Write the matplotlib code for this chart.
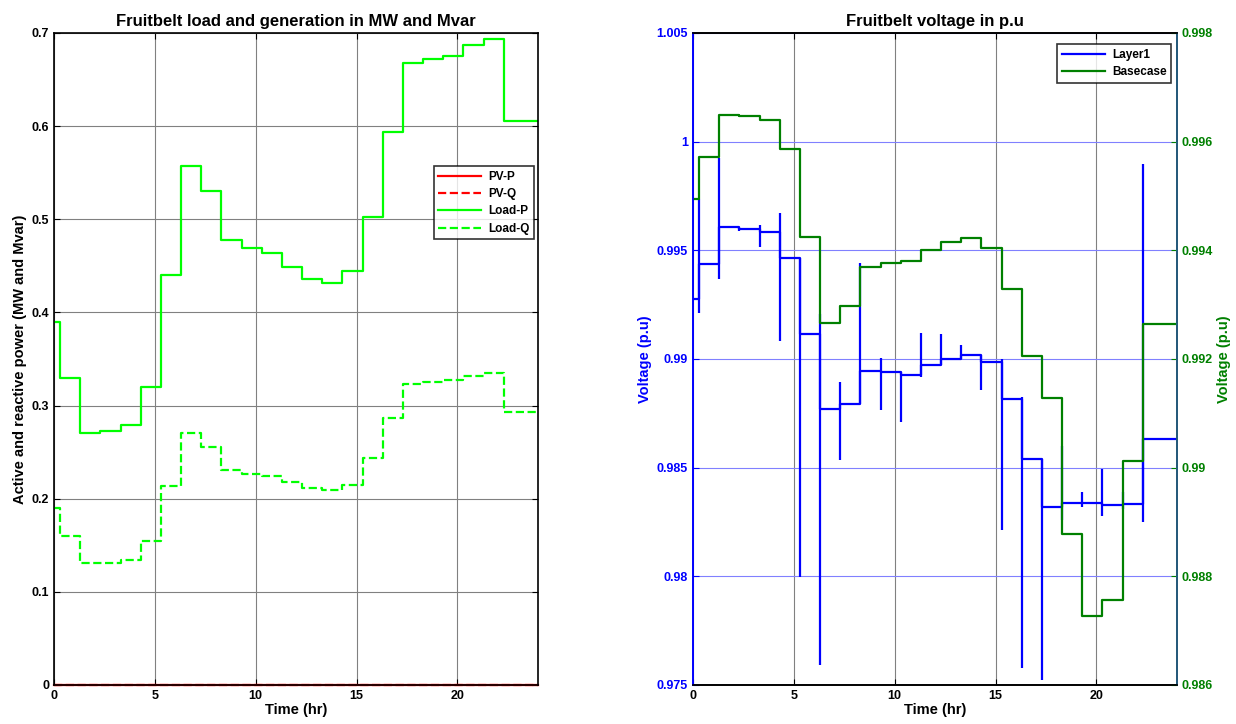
"""Fruitbelt load/generation and voltage profiles, two panels side by side."""

import matplotlib
matplotlib.use("Agg")
import matplotlib.pyplot as plt

plt.rcParams["font.family"] = ["Liberation Sans", "DejaVu Sans"]
plt.rcParams["font.weight"] = "bold"

# step start times (hr); each value holds until the next start, last until 24 h
step_start = [0, 0.3, 1.3, 2.3, 3.3, 4.3, 5.3, 6.3, 7.3, 8.3, 9.3, 10.3,
              11.3, 12.3, 13.3, 14.3, 15.3, 16.3, 17.3, 18.3, 19.3, 20.3,
              21.3, 22.3]
t_end = 24

pv_p = [0.0] * 24
pv_q = [0.0] * 24
load_p = [0.390, 0.330, 0.270, 0.273, 0.279, 0.320, 0.440, 0.557, 0.530,
          0.478, 0.469, 0.464, 0.449, 0.436, 0.432, 0.444, 0.502, 0.594,
          0.668, 0.672, 0.675, 0.687, 0.694, 0.605]
load_q = [0.190, 0.160, 0.131, 0.131, 0.134, 0.155, 0.214, 0.270, 0.256,
          0.231, 0.227, 0.224, 0.218, 0.212, 0.209, 0.215, 0.244, 0.287,
          0.323, 0.325, 0.327, 0.332, 0.335, 0.293]

layer1 = [0.99274, 0.99435, 0.99605, 0.99600, 0.99585, 0.99465, 0.99115,
          0.98769, 0.98792, 0.98945, 0.98940, 0.98926, 0.98971, 0.99000,
          0.99017, 0.98985, 0.98814, 0.98538, 0.98317, 0.98337, 0.98337,
          0.98328, 0.98334, 0.98634]
basecase = [0.99494, 0.99572, 0.99649, 0.99647, 0.99639, 0.99586, 0.99424,
            0.99267, 0.99298, 0.99369, 0.99377, 0.99381, 0.99400, 0.99415,
            0.99422, 0.99404, 0.99329, 0.99205, 0.99129, 0.98878, 0.98727,
            0.98756, 0.99013, 0.99264]

# transient extremes of Layer1 at each switching instant (0.3 .. 22.3)
spike_t = step_start[1:]
spike_lo = [0.99211, 0.99368, 0.99590, 0.99515, 0.99081, 0.97995, 0.97592,
            0.98537, 0.98792, 0.98765, 0.98711, 0.98918, 0.98971, 0.99000,
            0.98857, 0.98215, 0.97577, 0.97523, 0.98260, 0.98320, 0.98277,
            0.98310, 0.98249]
spike_hi = [0.99735, 0.99926, 0.99605, 0.99618, 0.99671, 0.99465, 0.99207,
            0.98892, 0.99440, 0.99005, 0.98940, 0.99120, 0.99114, 0.99063,
            0.99017, 0.99000, 0.98823, 0.98538, 0.98598, 0.98390, 0.98492,
            0.98390, 0.99895]

x_ticks = [0, 5, 10, 15, 20]
p_ticks = [0, 0.1, 0.2, 0.3, 0.4, 0.5, 0.6, 0.7]
p_labels = ["0", "0.1", "0.2", "0.3", "0.4", "0.5", "0.6", "0.7"]
v_ticks = [0.975, 0.98, 0.985, 0.99, 0.995, 1.0, 1.005]
v_labels = ["0.975", "0.98", "0.985", "0.99", "0.995", "1", "1.005"]
vb_ticks = [0.986, 0.988, 0.99, 0.992, 0.994, 0.996, 0.998]
vb_labels = ["0.986", "0.988", "0.99", "0.992", "0.994", "0.996", "0.998"]

BLUE = "#0000ff"
DGREEN = "#008000"
LIME = "#00ff00"
TICK_FS = 9
LABEL_FS = 10.5
TITLE_FS = 12
LEG_FS = 8.5


def stairs(vals):
    return step_start + [t_end], vals + [vals[-1]]


fig = plt.figure(figsize=(12.36, 7.24), dpi=100)

# ---- left panel ----
ax1 = fig.add_axes([0.0437, 0.0539, 0.3916, 0.9006])
for vals, col, ls, lab in [(pv_p, "red", "-", "PV-P"), (pv_q, "red", "--", "PV-Q"),
                           (load_p, LIME, "-", "Load-P"), (load_q, LIME, "--", "Load-Q")]:
    xs, ys = stairs(vals)
    ax1.step(xs, ys, where="post", color=col, ls=ls, lw=1.6, label=lab,
             clip_on=False if col == "red" else True)
ax1.set_xlim(0, 24)
ax1.set_ylim(0, 0.7)
ax1.set_xticks(x_ticks)
ax1.set_yticks(p_ticks)
ax1.set_yticklabels(p_labels)
ax1.grid(True, color="#808080", lw=0.8)
ax1.tick_params(direction="in", top=True, right=True, labelsize=TICK_FS, length=4)
ax1.set_title("Fruitbelt load and generation in MW and Mvar", fontsize=TITLE_FS,
              fontweight="bold", pad=5)
ax1.set_xlabel("Time (hr)", fontsize=LABEL_FS, fontweight="bold", labelpad=1)
ax1.set_ylabel("Active and reactive power (MW and Mvar)", fontsize=LABEL_FS,
               fontweight="bold", labelpad=3)
leg1 = ax1.legend(loc="upper left", bbox_to_anchor=(0.772, 0.805), fontsize=LEG_FS,
                  handlelength=3.6, frameon=True, fancybox=False,
                  borderpad=0.4, labelspacing=0.45, handletextpad=0.6)
leg1.get_frame().set_edgecolor("black")
leg1.get_frame().set_linewidth(1.2)
for sp in ax1.spines.values():
    sp.set_linewidth(1.2)

# ---- right panel ----
ax2 = fig.add_axes([0.5607, 0.0539, 0.3916, 0.9006])
xs, ys = stairs(layer1)
h1, = ax2.step(xs, ys, where="post", color=BLUE, lw=1.6, label="Layer1")
ax2.vlines(spike_t, spike_lo, spike_hi, color=BLUE, lw=1.6)
ax2.set_xlim(0, 24)
ax2.set_ylim(0.975, 1.005)
ax2.set_xticks(x_ticks)
ax2.set_yticks(v_ticks)
ax2.set_yticklabels(v_labels)
ax2.xaxis.grid(True, color="#808080", lw=0.8)
ax2.yaxis.grid(True, color="#8080ff", lw=0.8)
ax2.tick_params(axis="y", colors=BLUE, direction="in", labelsize=TICK_FS, length=4)
ax2.tick_params(axis="x", direction="in", top=True, labelsize=TICK_FS, length=4)
ax2.set_title("Fruitbelt voltage in p.u", fontsize=TITLE_FS, fontweight="bold", pad=5)
ax2.set_xlabel("Time (hr)", fontsize=LABEL_FS, fontweight="bold", labelpad=1)
ax2.set_ylabel("Voltage (p.u)", fontsize=LABEL_FS, fontweight="bold", color=BLUE,
               labelpad=3)

ax3 = ax2.twinx()
xs, ys = stairs(basecase)
h2, = ax3.step(xs, ys, where="post", color=DGREEN, lw=1.6, label="Basecase")
ax3.set_ylim(0.986, 0.998)
ax3.set_yticks(vb_ticks)
ax3.set_yticklabels(vb_labels)
ax3.tick_params(axis="y", colors=DGREEN, direction="in", labelsize=TICK_FS, length=4)
ax3.set_ylabel("Voltage (p.u)", fontsize=LABEL_FS, fontweight="bold", color=DGREEN,
               labelpad=3)
for sp in list(ax2.spines.values()) + list(ax3.spines.values()):
    sp.set_linewidth(1.2)
ax2.spines["left"].set_color(BLUE)
ax3.spines["left"].set_color(BLUE)
ax3.spines["right"].set_color("#26648c")

leg2 = ax3.legend([h1, h2], ["Layer1", "Basecase"], loc="upper right",
                  bbox_to_anchor=(1.0, 0.992), fontsize=LEG_FS, handlelength=3.6,
                  frameon=True, fancybox=False, borderpad=0.4,
                  labelspacing=0.45, handletextpad=0.6)
leg2.get_frame().set_edgecolor("black")
leg2.get_frame().set_linewidth(1.2)

fig.savefig("out.png", dpi=100)
